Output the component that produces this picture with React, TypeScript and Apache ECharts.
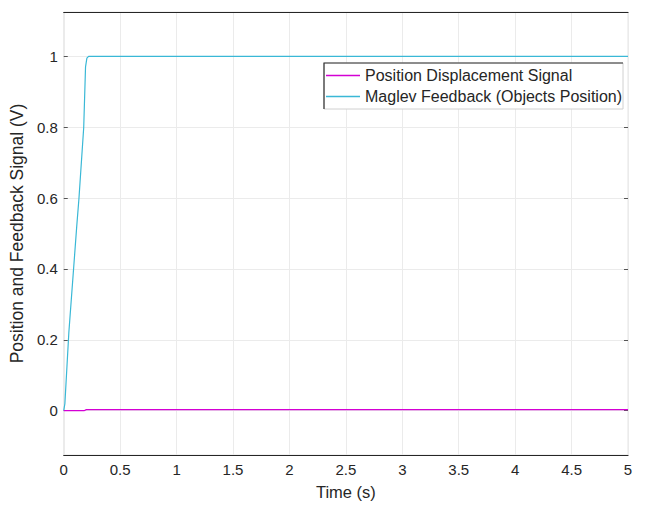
import React, { useEffect, useRef } from "react";
import * as echarts from "echarts";

const xTicks = [0, 0.5, 1, 1.5, 2, 2.5, 3, 3.5, 4, 4.5, 5];
const yTicks = [0, 0.2, 0.4, 0.6, 0.8, 1];
const feedbackT = [0, 0.01, 0.045, 0.115, 0.135, 0.177, 0.193, 0.205, 0.22, 5];
const feedbackV = [0, 0.02, 0.22, 0.52, 0.6, 0.8, 0.97, 0.995, 1.0, 1.0];
const displT = [0, 0.18, 0.2, 5];
const displV = [0, 0, 0.003, 0.003];
const seriesNames = ["Position Displacement Signal", "Maglev Feedback (Objects Position)"];

const FONT = "'Liberation Sans', Arial, sans-serif";

export default function App() {
  const ref = useRef<HTMLDivElement>(null);
  useEffect(() => {
    const chart = echarts.init(ref.current!, null, { renderer: "svg" });
    const grid = { left: 63, right: 17, top: 12, bottom: 50 };
    chart.setOption({
      animation: false,
      backgroundColor: "#ffffff",
      textStyle: { fontFamily: FONT },
      grid: { ...grid, show: true, borderColor: "#e4e4e4", borderWidth: 1 },
      xAxis: [
        {
          type: "value",
          min: xTicks[0],
          max: xTicks[xTicks.length - 1],
          interval: 0.5,
          name: "Time (s)",
          nameLocation: "middle",
          nameGap: 28,
          nameTextStyle: { fontSize: 16.5, color: "#262626", fontFamily: FONT },
          axisLine: { show: true, onZero: false, lineStyle: { color: "#262626", width: 1.2 } },
          axisTick: { show: false },
          axisLabel: { fontSize: 15, color: "#262626", margin: 7, fontFamily: FONT },
          splitLine: { show: true, lineStyle: { color: "#ebebeb", width: 1 } },
        },
        {
          type: "value",
          position: "top",
          min: xTicks[0],
          max: xTicks[xTicks.length - 1],
          interval: 0.5,
          axisLine: { show: true, onZero: false, lineStyle: { color: "#262626", width: 1.2 } },
          axisTick: { show: false },
          axisLabel: { show: false },
          splitLine: { show: false },
        },
      ],
      yAxis: [
        {
          type: "value",
          min: -0.125,
          max: 1.125,
          name: "Position and Feedback Signal (V)",
          nameLocation: "middle",
          nameGap: 31,
          nameTextStyle: { fontSize: 17.5, color: "#262626", fontFamily: FONT },
          axisLine: { show: false, onZero: false },
          axisTick: {
            show: true,
            inside: true,
            length: 4,
            customValues: yTicks,
            lineStyle: { color: "#555" },
          },
          axisLabel: {
            fontSize: 15,
            color: "#262626",
            margin: 6,
            customValues: yTicks,
            formatter: (v: number) => String(Math.round(v * 10) / 10),
            fontFamily: FONT,
          },
          splitLine: { show: true, lineStyle: { color: "#ebebeb", width: 1 } },
        },
        {
          type: "value",
          position: "right",
          min: -0.125,
          max: 1.125,
          axisLine: { show: false, onZero: false },
          axisTick: {
            show: true,
            inside: true,
            length: 4,
            customValues: yTicks,
            lineStyle: { color: "#555" },
          },
          axisLabel: { show: false, customValues: yTicks },
          splitLine: { show: false },
        },
      ],
      legend: {
        show: true,
        orient: "vertical",
        left: 326,
        top: 66,
        padding: 0,
        itemGap: 2,
        itemWidth: 34,
        itemHeight: 1.5,
        icon: "rect",
        z: 100,
        data: seriesNames,
        textStyle: { fontSize: 16, color: "#262626", lineHeight: 19, fontFamily: FONT },
      },
      graphic: [
        {
          type: "rect",
          shape: { x: 324, y: 63, width: 299, height: 46 },
          style: { fill: "#ffffff", stroke: "#d0d0d0", lineWidth: 1 },
          z: 50,
          silent: true,
        },
        {
          type: "polyline",
          shape: { points: [[324, 109], [324, 63], [623, 63]] },
          style: { stroke: "#333333", lineWidth: 1.2, fill: "none" },
          z: 51,
          silent: true,
        },
      ],
      series: [
        {
          name: seriesNames[0],
          type: "line",
          xAxisIndex: 0,
          yAxisIndex: 0,
          showSymbol: false,
          data: displT.map((t, i) => [t, displV[i]]),
          lineStyle: { color: "#d400d4", width: 1.2 },
          itemStyle: { color: "#d400d4" },
          z: 3,
        },
        {
          name: seriesNames[1],
          type: "line",
          xAxisIndex: 0,
          yAxisIndex: 0,
          showSymbol: false,
          data: feedbackT.map((t, i) => [t, feedbackV[i]]),
          lineStyle: { color: "#3ab8d6", width: 1.2 },
          itemStyle: { color: "#3ab8d6" },
          z: 2,
        },
      ],
    });
    return () => chart.dispose();
  }, []);
  return <div ref={ref} style={{ width: 645, height: 505, position: "absolute", left: 0, top: 0 }} />;
}
